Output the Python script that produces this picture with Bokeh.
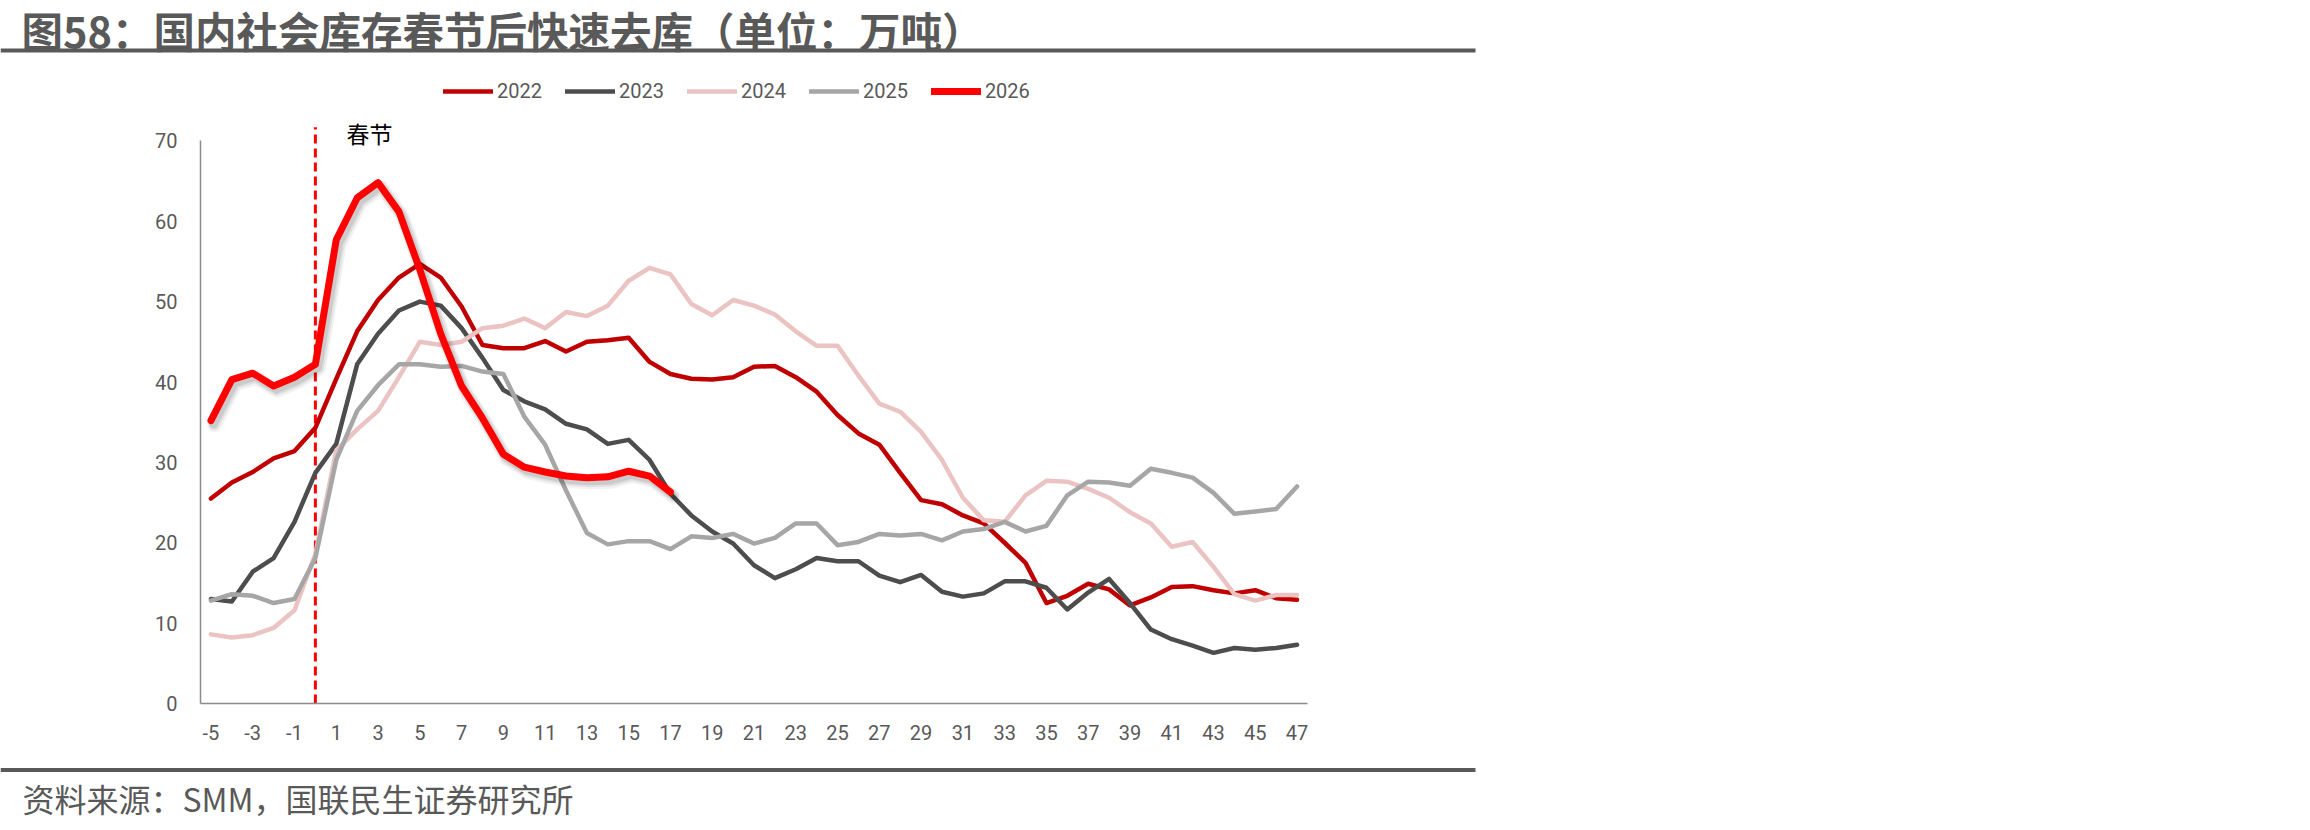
from bokeh.plotting import figure
from bokeh.layouts import column
from bokeh.models import (Range1d, FixedTicker, Label, Legend, LegendItem,
                          BoxAnnotation, CustomJSTickFormatter)
from bokeh.embed import file_html
from bokeh.resources import INLINE

# Weeks relative to the Spring Festival (0 = festival week)
weeks = list(range(-5, 48))
weeks_2026 = list(range(-5, 18))
festival_week = 0
festival_marker_top = 71.7

# Social inventory, 10k tonnes
s2022 = [25.5, 27.5, 28.8, 30.5, 31.4, 34.3, 40.4, 46.3, 50.2, 53.0,
         54.7, 53.0, 49.4, 44.6, 44.2, 44.2, 45.1, 43.8, 45.0, 45.2,
         45.5, 42.5, 41.0, 40.4, 40.3, 40.6, 41.9, 42.0, 40.6, 38.8,
         35.9, 33.6, 32.2, 28.7, 25.3, 24.8, 23.4, 22.4, 20.0, 17.5,
         12.5, 13.4, 14.9, 14.2, 12.2, 13.2, 14.5, 14.6, 14.1, 13.7,
         14.1, 13.1, 12.9]
s2023 = [13.0, 12.7, 16.4, 18.1, 22.6, 28.7, 32.3, 42.2, 46.0, 48.9,
         50.0, 49.5, 46.7, 43.0, 39.0, 37.6, 36.6, 34.8, 34.1, 32.3,
         32.8, 30.3, 26.1, 23.4, 21.4, 19.9, 17.2, 15.6, 16.7, 18.1,
         17.7, 17.7, 15.9, 15.1, 16.0, 13.9, 13.3, 13.7, 15.2, 15.2,
         14.4, 11.7, 13.8, 15.5, 12.5, 9.2, 8.0, 7.2, 6.3, 6.9,
         6.7, 6.9, 7.3]
s2024 = [8.6, 8.2, 8.5, 9.4, 11.6, 18.6, 31.5, 34.1, 36.4, 40.6,
         45.0, 44.6, 45.0, 46.7, 47.0, 47.9, 46.7, 48.7, 48.2, 49.5,
         52.6, 54.2, 53.4, 49.7, 48.3, 50.2, 49.5, 48.4, 46.3, 44.5,
         44.5, 40.8, 37.3, 36.3, 33.8, 30.3, 25.6, 22.8, 22.6, 25.9,
         27.7, 27.6, 26.7, 25.6, 23.8, 22.4, 19.5, 20.1, 17.0, 13.6,
         12.8, 13.5, 13.5]
s2025 = [12.8, 13.6, 13.4, 12.5, 13.0, 18.1, 30.3, 36.4, 39.6, 42.2,
         42.2, 41.9, 42.0, 41.3, 41.0, 35.7, 32.2, 26.5, 21.2, 19.8,
         20.2, 20.2, 19.2, 20.8, 20.6, 21.1, 19.9, 20.6, 22.4, 22.4,
         19.7, 20.1, 21.1, 20.9, 21.1, 20.3, 21.4, 21.7, 22.6, 21.4,
         22.1, 25.9, 27.6, 27.5, 27.1, 29.2, 28.7, 28.1, 26.2, 23.6,
         23.9, 24.2, 27.0]
s2026 = [35.2, 40.3, 41.1, 39.5, 40.6, 42.2, 57.7, 62.9, 64.8, 61.2,
         54.0, 46.0, 39.5, 35.5, 31.0, 29.4, 28.8, 28.3, 28.1, 28.2,
         28.9, 28.3, 26.3]

series_names = ["2022", "2023", "2024", "2025", "2026"]
series_colors = ["#C00000", "#4D4D4D", "#EBC3C3", "#A6A6A6", "#FF0000"]
series_widths = [4.5, 4.5, 4.5, 4.5, 7]

x_ticks = list(range(-5, 48, 2))
y_ticks = list(range(0, 80, 10))

title_text = "图58：国内社会库存春节后快速去库（单位：万吨）"
source_text = "资料来源：SMM，国联民生证券研究所"
festival_text = "春节"

CJK = "Noto Sans CJK SC"
NUM = "Roboto"
TEXT_GREY = "#595959"
RULE_GREY = "#595959"
W = 2310
common = dict(line_join="round", line_cap="round")


def blank_panel(height):
    f = figure(width=W, height=height, output_backend="svg", toolbar_location=None,
               title=None, x_axis_location=None, y_axis_location=None,
               x_range=Range1d(0, 1), y_range=Range1d(0, 1), min_border=0)
    f.outline_line_color = None
    f.grid.visible = False
    f.background_fill_color = "white"
    f.border_fill_color = "white"
    f.frame_align = False
    return f


# ---- header: title and rule ----
header = blank_panel(60)
header.add_layout(Label(x=21, y=31, x_units="screen", y_units="screen",
                        text=title_text, text_baseline="middle", text_font=CJK,
                        text_font_size="41.5px", text_font_style="bold",
                        text_line_height=1.0, text_color=TEXT_GREY))
header.add_layout(BoxAnnotation(left=0, right=1475, bottom=8, top=12,
                                left_units="screen", right_units="screen",
                                bottom_units="screen", top_units="screen",
                                fill_color=RULE_GREY, fill_alpha=1, line_color=None))

# ---- main chart ----
p = figure(width=W, height=700, output_backend="svg", toolbar_location=None,
           title=None, x_range=Range1d(-5.5, 47.5), y_range=Range1d(0, 80.0),
           min_border_left=200, min_border_right=1003,
           min_border_top=0, min_border_bottom=57)
p.background_fill_color = "white"
p.border_fill_color = "white"
p.outline_line_color = None
p.grid.visible = False
p.frame_align = False

for ax in (p.xaxis, p.yaxis):
    ax.axis_line_color = "#8c8c8c"
    ax.axis_line_width = 1.5
    ax.major_tick_line_color = None
    ax.minor_tick_line_color = None
    ax.major_tick_out = 0
    ax.major_tick_in = 0
    ax.major_label_text_font = NUM
    ax.major_label_text_font_size = "20px"
    ax.major_label_text_color = TEXT_GREY
p.xaxis.ticker = FixedTicker(ticks=x_ticks)
p.yaxis.ticker = FixedTicker(ticks=y_ticks)
p.xaxis.formatter = CustomJSTickFormatter(code="return String(tick);")
p.yaxis.bounds = (0, 70)
p.xaxis.major_label_standoff = 21
p.yaxis.major_label_standoff = 23

# Spring Festival marker
p.segment(x0=[festival_week], y0=[0], x1=[festival_week], y1=[festival_marker_top],
          line_color="#FF0000", line_width=3, line_dash="9 5")

renderers = []
for vals, color, width in zip([s2022, s2023, s2024, s2025], series_colors, series_widths):
    renderers.append(p.line(weeks, vals, line_color=color, line_width=width, **common))

# soft drop shadow under the current-year line
for w, a, dx, dy in ((14, 0.05, 0.17, 0.6), (11, 0.07, 0.15, 0.5), (8, 0.09, 0.13, 0.45)):
    p.line([x + dx for x in weeks_2026], [y - dy for y in s2026],
           line_color="black", line_alpha=a, line_width=w, **common)
renderers.append(p.line(weeks_2026, s2026, line_color=series_colors[4],
                        line_width=series_widths[4], **common))

legend = Legend(items=[LegendItem(label=n, renderers=[r]) for n, r in zip(series_names, renderers)],
                orientation="horizontal", location=(243, 600),
                glyph_width=50, glyph_height=24, label_standoff=4, spacing=23,
                padding=0, margin=0, border_line_color=None,
                background_fill_alpha=0,
                label_text_font=NUM, label_text_font_size="20px",
                label_text_color=TEXT_GREY, label_height=24)
p.add_layout(legend)

p.add_layout(Label(x=festival_week, y=570.5, x_units="data", y_units="screen",
                   x_offset=31, text=festival_text, text_baseline="middle",
                   text_font=CJK, text_font_size="23px", text_color="#000000"))

# ---- footer: rule and source ----
footer = blank_panel(70)
footer.add_layout(BoxAnnotation(left=0, right=1475, bottom=58.5, top=62.5,
                                left_units="screen", right_units="screen",
                                bottom_units="screen", top_units="screen",
                                fill_color=RULE_GREY, fill_alpha=1, line_color=None))
footer.add_layout(Label(x=22, y=33, x_units="screen", y_units="screen",
                        text=source_text, text_baseline="middle", text_font=CJK,
                        text_font_size="32px", text_color=TEXT_GREY))

page = column(header, p, footer, spacing=0)
open("out.html", "w").write(file_html(page, INLINE))
